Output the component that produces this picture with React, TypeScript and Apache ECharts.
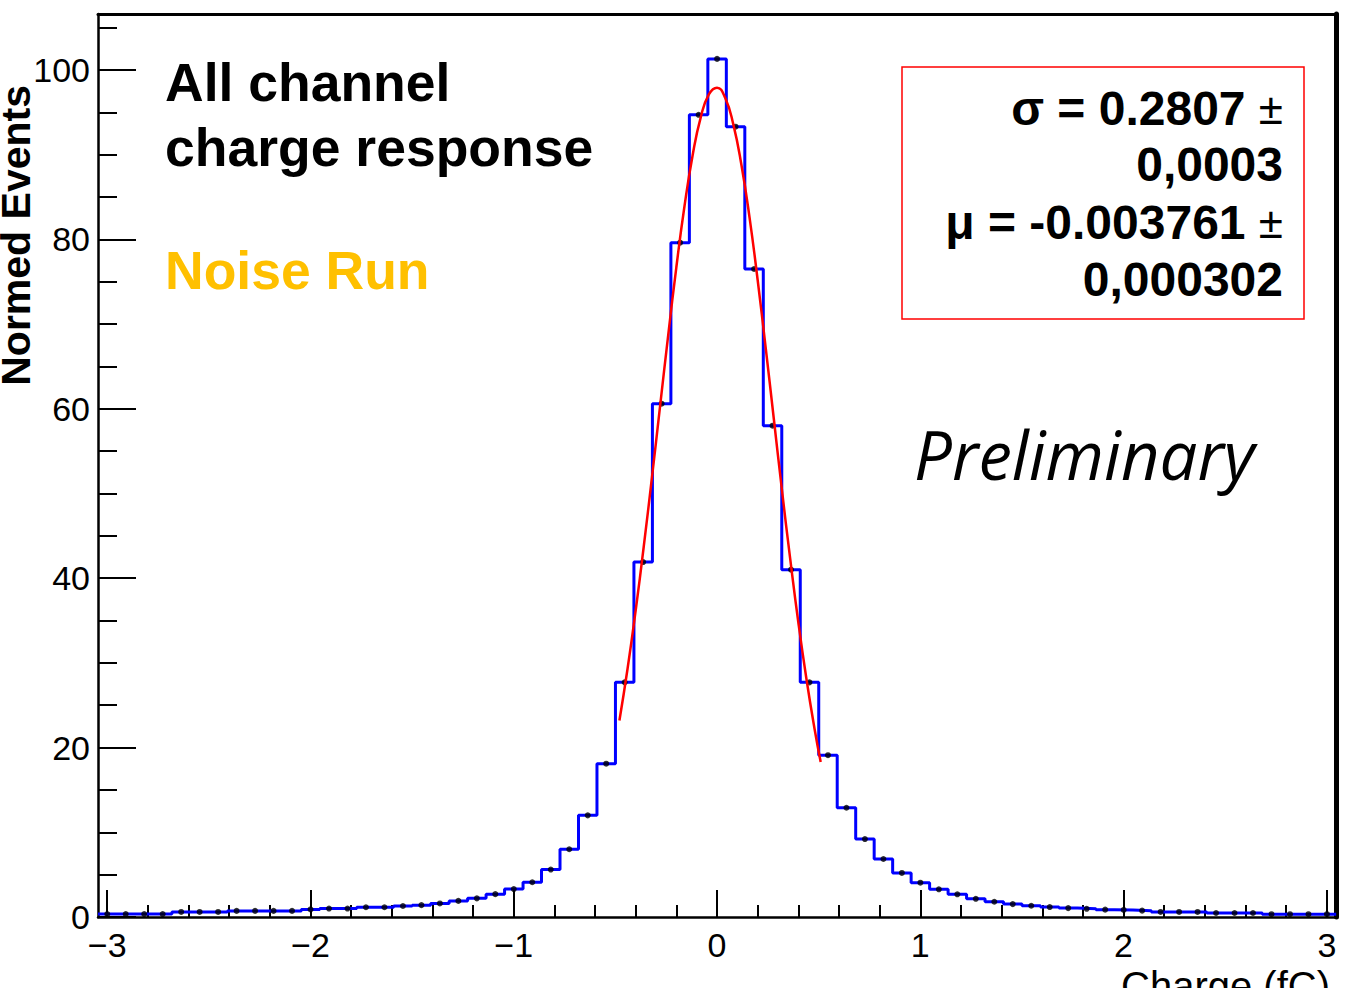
import React, { useEffect, useRef } from "react";
import * as echarts from "echarts";

// Histogram definition: 67 bins of width 1/11 fC starting at -3.045 fC
const BIN_LOW = -3.045;
const BIN_WIDTH = 1 / 11;
const X_MIN = -3.045;
const X_MAX = 3.045;
const Y_MIN = 0;
const Y_MAX = 106.6;

// Normed events per bin (left to right)
const binCounts = [
  0.35, 0.35, 0.35, 0.35, 0.6, 0.6, 0.6, 0.72, 0.72, 0.72, 0.72,
  0.9, 1.0, 1.0, 1.15, 1.15, 1.3, 1.4, 1.6, 1.9, 2.2, 2.7,
  3.3, 4.1, 5.6, 8.0, 12.0, 18.1, 27.7, 41.9, 60.6, 79.6, 94.7,
  101.3,
  93.3, 76.5, 58.0, 41.0, 27.7, 19.1, 12.9, 9.2, 6.85, 5.2, 4.05,
  3.27, 2.68, 2.15, 1.8, 1.52, 1.33, 1.17, 1.05, 0.97, 0.87, 0.83,
  0.75, 0.6, 0.6, 0.6, 0.47, 0.47, 0.47, 0.33, 0.33, 0.33, 0.33,
];

// Gaussian fit curve
const fitX = [
  -0.48, -0.44, -0.4, -0.36, -0.32, -0.28, -0.24, -0.2, -0.16, -0.12, -0.08, -0.04,
  0.0, 0.04, 0.08, 0.12, 0.16, 0.2, 0.24, 0.28, 0.32, 0.36, 0.4, 0.44, 0.48, 0.51,
];
const fitY = [
  23.2, 29.3, 36.2, 43.8, 51.9, 60.3, 68.7, 76.7, 83.9, 89.9, 94.4, 97.1,
  97.9, 96.7, 93.6, 88.8, 82.6, 75.2, 67.1, 58.7, 50.3, 42.3, 34.8, 28.1, 22.2, 18.3,
];

const xMajorTicks = [-3, -2, -1, 0, 1, 2, 3];
const xMinorTicks = [
  -2.8, -2.6, -2.4, -2.2, -1.8, -1.6, -1.4, -1.2, -0.8, -0.6, -0.4, -0.2,
  0.2, 0.4, 0.6, 0.8, 1.2, 1.4, 1.6, 1.8, 2.2, 2.4, 2.6, 2.8,
];
const yMajorTicks = [0, 20, 40, 60, 80, 100];
const yMinorTicks = [5, 10, 15, 25, 30, 35, 45, 50, 55, 65, 70, 75, 85, 90, 95, 105];

const xTitle = "Charge (fC)";
const yTitle = "Normed Events";
const titleLines = ["All channel", "charge response"];
const runLabel = "Noise Run";
const prelimLabel = "Preliminary";
const fitLines = [
  ["σ = 0.2807 ", "±"],
  ["0,0003", ""],
  ["μ = -0.003761 ", "±"],
  ["0,000302", ""],
];

const FONT = "'Liberation Sans', Arial, Helvetica, sans-serif";

export default function App() {
  const ref = useRef<HTMLDivElement>(null);

  useEffect(() => {
    if (!ref.current) return;
    const chart = echarts.init(ref.current, null, { renderer: "svg" });

    const stepData: number[][] = [];
    binCounts.forEach((v, i) => {
      const lo = BIN_LOW + i * BIN_WIDTH;
      stepData.push([lo, v]);
      stepData.push([lo + BIN_WIDTH, v]);
    });
    const pointData = binCounts.map((v, i) => [BIN_LOW + (i + 0.5) * BIN_WIDTH, v]);
    const fitData = fitX.map((x, i) => [x, fitY[i]]);

    const fitTop = [108, 164, 222.5, 279];

    const graphics: any[] = [
      {
        type: "text",
        x: 165,
        y: 82,
        style: {
          text: titleLines[0],
          font: `bold 53.5px ${FONT}`,
          fill: "#000",
          align: "left",
          verticalAlign: "middle",
        },
      },
      {
        type: "text",
        x: 165,
        y: 147,
        style: {
          text: titleLines[1],
          font: `bold 53.5px ${FONT}`,
          fill: "#000",
          align: "left",
          verticalAlign: "middle",
        },
      },
      {
        type: "text",
        x: 165,
        y: 270,
        style: {
          text: runLabel,
          font: `bold 53.5px ${FONT}`,
          fill: "#FFC000",
          align: "left",
          verticalAlign: "middle",
        },
      },
      {
        type: "text",
        x: 914,
        y: 454,
        style: {
          text: prelimLabel,
          font: `italic 67px 'Open Sans', sans-serif`,
          fill: "#000",
          align: "left",
          verticalAlign: "middle",
        },
      },
      {
        type: "rect",
        shape: { x: 902, y: 67, width: 402, height: 252 },
        style: { fill: "rgba(255,255,255,0)", stroke: "#ff0000", lineWidth: 1.5 },
      },
      ...fitLines.map((ln, i) => ({
        type: "text",
        x: 1283,
        y: fitTop[i],
        style: {
          text: ln[1] ? `{b|${ln[0]}}{r|${ln[1]}}` : `{b|${ln[0]}}`,
          fill: "#000",
          align: "right",
          verticalAlign: "middle",
          rich: {
            b: { font: `bold 48px ${FONT}`, fill: "#000" },
            r: { font: `normal 44px ${FONT}`, fill: "#000" },
          },
        },
      })),
      {
        type: "text",
        x: 16,
        y: 85,
        rotation: Math.PI / 2,
        style: {
          text: yTitle,
          font: `bold 41px ${FONT}`,
          fill: "#000",
          align: "right",
          verticalAlign: "middle",
        },
      },
      {
        type: "text",
        x: 1330,
        y: 986,
        style: {
          text: xTitle,
          font: `normal 40px ${FONT}`,
          fill: "#000",
          align: "right",
          verticalAlign: "middle",
        },
      },
    ];

    const option: any = {
      animation: false,
      backgroundColor: "#ffffff",
      grid: { left: 98, right: 13, top: 14, bottom: 71, containLabel: false },
      xAxis: [
        {
          type: "value",
          min: X_MIN,
          max: X_MAX,
          position: "bottom",
          axisLine: { show: true, onZero: false, lineStyle: { color: "#000", width: 2.5 } },
          axisTick: {
            show: true,
            inside: true,
            length: 27,
            customValues: xMajorTicks,
            lineStyle: { color: "#000", width: 2 },
          },
          axisLabel: {
            show: true,
            customValues: xMajorTicks,
            fontSize: 34,
            fontFamily: FONT,
            color: "#000",
            margin: 11,
            formatter: (v: number) => String(v).replace("-", "\u2212"),
          },
          splitLine: { show: false },
        },
        {
          type: "value",
          min: X_MIN,
          max: X_MAX,
          position: "bottom",
          axisLine: { show: false, onZero: false },
          axisTick: {
            show: true,
            inside: true,
            length: 12,
            customValues: xMinorTicks,
            lineStyle: { color: "#000", width: 2 },
          },
          axisLabel: { show: false },
          splitLine: { show: false },
        },
        {
          type: "value",
          min: X_MIN,
          max: X_MAX,
          position: "top",
          axisLine: { show: true, onZero: false, lineStyle: { color: "#000", width: 3 } },
          axisTick: { show: false },
          axisLabel: { show: false },
          splitLine: { show: false },
        },
      ],
      yAxis: [
        {
          type: "value",
          min: Y_MIN,
          max: Y_MAX,
          position: "left",
          axisLine: { show: true, onZero: false, lineStyle: { color: "#000", width: 2.5 } },
          axisTick: {
            show: true,
            inside: true,
            length: 38,
            customValues: yMajorTicks,
            lineStyle: { color: "#000", width: 2 },
          },
          axisLabel: {
            show: true,
            customValues: yMajorTicks,
            fontSize: 34,
            fontFamily: FONT,
            color: "#000",
            margin: 8,
          },
          splitLine: { show: false },
        },
        {
          type: "value",
          min: Y_MIN,
          max: Y_MAX,
          position: "left",
          axisLine: { show: false, onZero: false },
          axisTick: {
            show: true,
            inside: true,
            length: 19,
            customValues: yMinorTicks,
            lineStyle: { color: "#000", width: 2 },
          },
          axisLabel: { show: false },
          splitLine: { show: false },
        },
        {
          type: "value",
          min: Y_MIN,
          max: Y_MAX,
          position: "right",
          axisLine: { show: true, onZero: false, lineStyle: { color: "#000", width: 5 } },
          axisTick: { show: false },
          axisLabel: { show: false },
          splitLine: { show: false },
        },
      ],
      series: [
        {
          type: "line",
          xAxisIndex: 0,
          yAxisIndex: 0,
          data: stepData,
          symbol: "none",
          lineStyle: { color: "#0000ff", width: 3 },
          silent: true,
          z: 2,
        },
        {
          type: "scatter",
          xAxisIndex: 0,
          yAxisIndex: 0,
          data: pointData,
          symbol: "circle",
          symbolSize: 6,
          itemStyle: { color: "#000" },
          silent: true,
          z: 3,
        },
        {
          type: "line",
          xAxisIndex: 0,
          yAxisIndex: 0,
          data: fitData,
          symbol: "none",
          smooth: true,
          lineStyle: { color: "#ff0000", width: 2.5 },
          silent: true,
          z: 4,
        },
      ],
      graphic: graphics,
    };

    chart.setOption(option);
    return () => {
      chart.dispose();
    };
  }, []);

  return (
    <div
      ref={ref}
      style={{ position: "absolute", left: 0, top: 0, width: 1349, height: 988, background: "#fff" }}
    />
  );
}
